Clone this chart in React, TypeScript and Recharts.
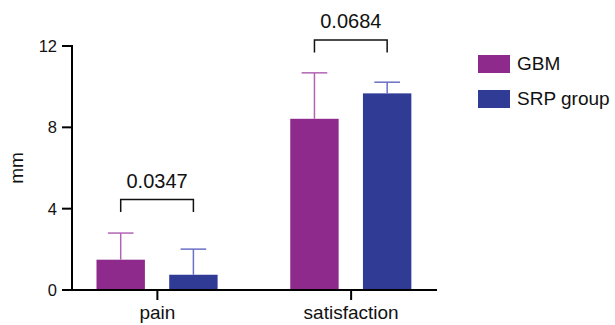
import { Bar, BarChart, XAxis, YAxis } from "recharts";

const categories = ["pain", "satisfaction"];
const gbmMeans = [1.49, 8.42];
const gbmErrors = [1.31, 2.26];
const srpMeans = [0.75, 9.67];
const srpErrors = [1.26, 0.55];
const pValues = ["0.0347", "0.0684"];
const bracketTops = [4.45, 12.3];
const bracketDrop = 0.62;
const yTicks = [0, 4, 8, 12];
const seriesNames = ["GBM", "SRP group"];

const GBM_COLOR = "#8e2a8c";
const SRP_COLOR = "#303b96";
const GBM_ERR = "#b264b4";
const SRP_ERR = "#6a70c4";
const INK = "#111";
const FONT = "'Liberation Sans', Arial, Helvetica, sans-serif";
const BAR_GAP = 24.3;

const rows = categories.map((category, i) => ({
  category,
  gbm: gbmMeans[i],
  srp: srpMeans[i],
  gbmErr: gbmErrors[i],
  srpErr: srpErrors[i],
  pValue: pValues[i],
  bracketTop: bracketTops[i],
}));

function makeShape(valueKey: string, errKey: string, fill: string, errColor: string, withBracket: boolean) {
  return (props: any) => {
    const { x, y, width, height, payload } = props;
    const v = payload[valueKey];
    const perUnit = height / v;
    const base = y + height;
    const cx = x + width / 2;
    const errTop = y - payload[errKey] * perUnit;
    const capHalf = width * 0.265;
    let bracket = null;
    if (withBracket) {
      const left = cx - (width + BAR_GAP);
      const top = base - payload.bracketTop * perUnit;
      const foot = base - (payload.bracketTop - bracketDrop) * perUnit;
      bracket = (
        <g>
          <path
            d={`M${left},${foot}V${top}H${cx}V${foot}`}
            fill="none"
            stroke={INK}
            strokeWidth={1.5}
          />
          <text
            x={(left + cx) / 2}
            y={top - 12}
            textAnchor="middle"
            fontSize={20}
            fill={INK}
            fontFamily={FONT}
          >
            {payload.pValue}
          </text>
        </g>
      );
    }
    return (
      <g>
        <rect x={x} y={y} width={width} height={height} fill={fill} />
        <line x1={cx} x2={cx} y1={y} y2={errTop} stroke={errColor} strokeWidth={1.5} />
        <line x1={cx - capHalf} x2={cx + capHalf} y1={errTop} y2={errTop} stroke={errColor} strokeWidth={1.5} />
        {bracket}
      </g>
    );
  };
}

export default function App() {
  const axisStroke = { stroke: "#000", strokeWidth: 2, strokeLinecap: "square" as const };
  return (
    <div style={{ position: "absolute", left: 0, top: 0, width: 615, height: 325, fontFamily: FONT, background: "#fff" }}>
      <BarChart
        width={615}
        height={325}
        data={rows}
        margin={{ top: 46, right: 179, bottom: 0, left: 0 }}
        barGap={BAR_GAP}
        barSize={48.4}
      >
        <XAxis
          dataKey="category"
          height={35}
          padding={{ left: -11.5, right: -12 }}
          axisLine={axisStroke}
          tickLine={{ stroke: "#000", strokeWidth: 2 }}
          tickSize={10}
          tickMargin={6}
          tick={{ fontSize: 19, fill: INK, fontFamily: FONT }}
        />
        <YAxis
          width={72}
          domain={[0, 12]}
          ticks={yTicks}
          axisLine={axisStroke}
          tickLine={{ stroke: "#000", strokeWidth: 2 }}
          tickSize={10}
          tickMargin={5}
          tick={{ fontSize: 16.5, fill: INK, fontFamily: FONT }}
          label={{
            content: (p: any) => {
              const vb = p.viewBox;
              const cy = vb.y + vb.height / 2;
              return (
                <text
                  x={23}
                  y={cy}
                  transform={`rotate(-90, 23, ${cy})`}
                  textAnchor="middle"
                  fontSize={19}
                  fill={INK}
                  fontFamily={FONT}
                >
                  mm
                </text>
              );
            },
          }}
        />
        <Bar
          dataKey="gbm"
          name={seriesNames[0]}
          fill={GBM_COLOR}
          isAnimationActive={false}
          shape={makeShape("gbm", "gbmErr", GBM_COLOR, GBM_ERR, false)}
        />
        <Bar
          dataKey="srp"
          name={seriesNames[1]}
          fill={SRP_COLOR}
          isAnimationActive={false}
          shape={makeShape("srp", "srpErr", SRP_COLOR, SRP_ERR, true)}
        />
      </BarChart>
      <div style={{ position: "absolute", left: 478, top: 55 }}>
        {seriesNames.map((name, i) => (
          <div key={name} style={{ display: "flex", alignItems: "center", height: 18, marginBottom: 17 }}>
            <div style={{ width: 32, height: 18, background: i === 0 ? GBM_COLOR : SRP_COLOR, marginRight: 7 }} />
            <span style={{ fontSize: 19, color: INK, lineHeight: "18px" }}>{name}</span>
          </div>
        ))}
      </div>
    </div>
  );
}
